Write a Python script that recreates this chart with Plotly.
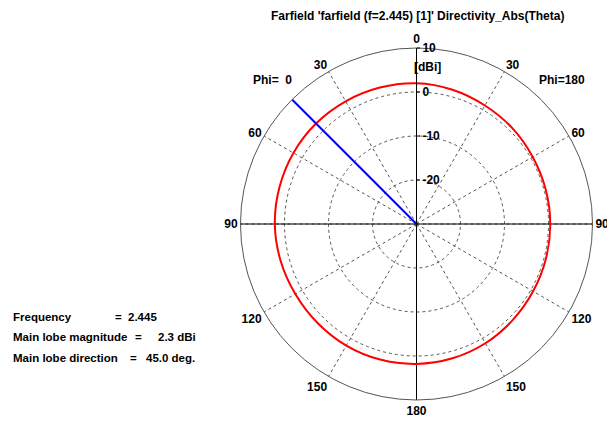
import plotly.graph_objects as go

# Plot angle (deg, counter-clockwise from top; 0..180 = Phi=0 side, 180..360 = Phi=180 side)
theta_deg = [0, 15, 30, 45, 60, 75, 90, 105, 120, 135, 150, 165, 180,
             195, 210, 225, 240, 255, 270, 285, 300, 315, 330, 345, 360]
directivity_dbi = [2.0, 2.1, 2.2, 2.3, 2.3, 2.25, 2.2, 2.0, 1.8, 1.8, 1.9, 1.9, 1.8,
                   1.6, 1.3, 0.9, 0.6, 0.45, 0.4, 0.4, 0.5, 0.8, 1.1, 1.6, 2.0]

main_lobe_dir = 45.0
main_lobe_mag = 2.3
frequency = 2.445

r_min, r_max = -30, 10
radial_ticks = [-20, -10, 0, 10]
angle_ticks = [0, 30, 60, 90, 120, 150, 180, 210, 240, 270, 300, 330]
angle_labels = ["0", "30", "60", "90", "120", "150", "180", "150", "120", "90", "60", "30"]

W, H = 607, 424
cx, cy, R = 416.5, 224, 176

FONT = "Liberation Sans"

fig = go.Figure()

# solid cross-hair axes
fig.add_trace(go.Scatterpolar(r=[r_max, r_min, r_max], theta=[0, 0, 180], mode="lines",
                              line=dict(color="black", width=1), hoverinfo="skip", showlegend=False))
fig.add_trace(go.Scatterpolar(r=[r_max, r_min, r_max], theta=[90, 90, 270], mode="lines",
                              line=dict(color="black", width=1), hoverinfo="skip", showlegend=False))

# pattern
fig.add_trace(go.Scatterpolar(r=directivity_dbi, theta=theta_deg, mode="lines",
                              line=dict(color="#ff0000", width=2, shape="spline"),
                              showlegend=False))
# main lobe direction
fig.add_trace(go.Scatterpolar(r=[r_min, r_max], theta=[main_lobe_dir, main_lobe_dir], mode="lines",
                              line=dict(color="#0000ff", width=2), showlegend=False))

fig.update_layout(
    width=W, height=H,
    margin=dict(l=0, r=0, t=0, b=0),
    paper_bgcolor="white",
    plot_bgcolor="white",
    showlegend=False,
    font=dict(family=FONT, size=12, color="black"),
    polar=dict(
        domain=dict(x=[(cx - R) / W, (cx + R) / W], y=[(H - cy - R) / H, (H - cy + R) / H]),
        bgcolor="white",
        radialaxis=dict(
            range=[r_min, r_max], tickvals=radial_ticks, ticktext=[str(v) for v in radial_ticks],
            angle=90, side="clockwise", tickangle=90, showline=True, linecolor="black", linewidth=1,
            showgrid=True, gridcolor="#555555", griddash="3px,3px", gridwidth=1,
            ticks="outside", ticklen=3, tickcolor="black",
            tickfont=dict(family=FONT, size=12, color="black", weight="bold"),
        ),
        angularaxis=dict(
            rotation=90, direction="counterclockwise",
            tickvals=angle_ticks, ticktext=angle_labels,
            showline=True, linecolor="#555555", linewidth=1,
            showgrid=True, gridcolor="#555555", griddash="3px,3px", gridwidth=1,
            ticks="", tickfont=dict(family=FONT, size=12, color="black", weight="bold"),
        ),
    ),
)

def px_x(x):
    return x / W

def px_y(y):
    return 1 - y / H

def add_text(x, y, text, xanchor="left", size=11.5):
    fig.add_annotation(x=px_x(x), y=px_y(y), xref="paper", yref="paper", text=text,
                       showarrow=False, xanchor=xanchor, yanchor="middle",
                       font=dict(family=FONT, size=size, color="black", weight="bold"))

add_text(417, 16, "Farfield 'farfield (f=2.445) [1]' Directivity_Abs(Theta)", xanchor="center", size=12)
add_text(412, 67, "[dBi]", xanchor="left", size=12)
add_text(251, 80, "Phi=  0", xanchor="left", size=12)
add_text(537, 80, "Phi=180", xanchor="left", size=12)

add_text(11, 317, "Frequency")
add_text(113, 317, "=")
add_text(126, 317, f"{frequency}")
add_text(11, 337, "Main lobe magnitude")
add_text(133, 337, "=")
add_text(156, 337, f"{main_lobe_mag} dBi")
add_text(11, 358, "Main lobe direction")
add_text(128, 358, "=")
add_text(144, 358, f"{main_lobe_dir:.1f} deg.")

fig.write_html("out.html", config={"displayModeBar": False},
               post_script="document.body.style.margin='0';document.body.style.overflow='hidden';")
